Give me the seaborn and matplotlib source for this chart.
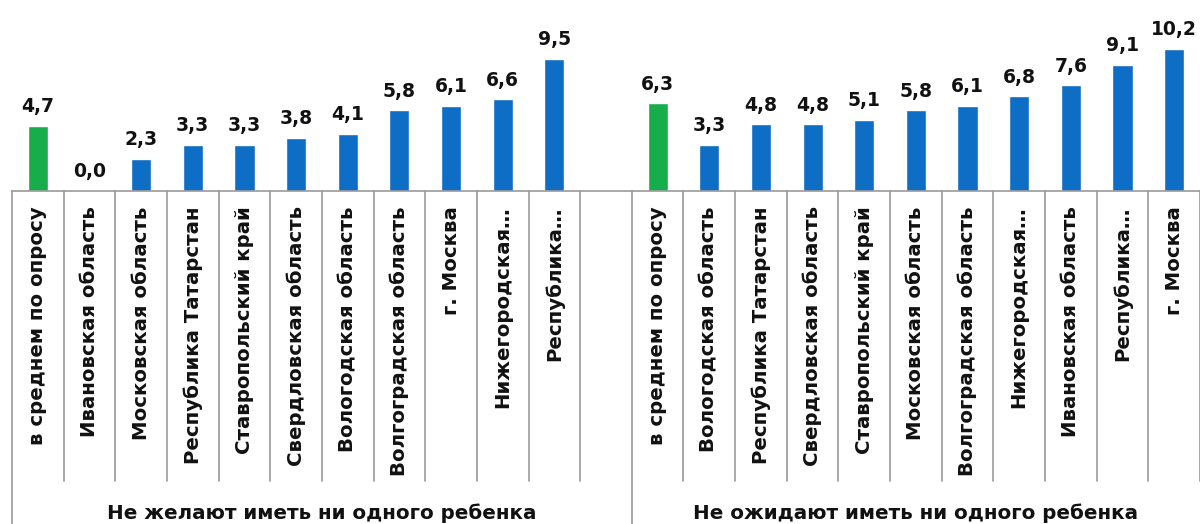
import numpy as np
import pandas as pd
import matplotlib
matplotlib.use("Agg")
import matplotlib.pyplot as plt
import seaborn as sns

# ==================== DATA ====================
GROUP_TITLES = ["Не желают иметь ни одного ребенка",
                "Не ожидают иметь ни одного ребенка"]

labels_wish = ["в среднем по опросу", "Ивановская область", "Московская область",
               "Республика Татарстан", "Ставропольский край", "Свердловская область",
               "Вологодская область", "Волгоградская область", "г. Москва",
               "Нижегородская…", "Республика…"]
values_wish = [4.7, 0.0, 2.3, 3.3, 3.3, 3.8, 4.1, 5.8, 6.1, 6.6, 9.5]

labels_expect = ["в среднем по опросу", "Вологодская область", "Республика Татарстан",
                 "Свердловская область", "Ставропольский край", "Московская область",
                 "Волгоградская область", "Нижегородская…", "Ивановская область",
                 "Республика…", "г. Москва"]
values_expect = [6.3, 3.3, 4.8, 4.8, 5.1, 5.8, 6.1, 6.8, 7.6, 9.1, 10.2]

GREEN = "#17AD4B"
BLUE = "#0E6DC4"
LINE = "#9A9A9A"

# build frame; unique keys so duplicate region names stay separate
rows = []
for i, (lab, v) in enumerate(zip(labels_wish, values_wish)):
    rows.append({"key": f"a{i}", "label": lab, "value": v,
                 "kind": "avg" if i == 0 else "reg"})
for i, (lab, v) in enumerate(zip(labels_expect, values_expect)):
    rows.append({"key": f"b{i}", "label": lab, "value": v,
                 "kind": "avg" if i == 0 else "reg"})
df = pd.DataFrame(rows)

# one empty slot after the first group
order = [f"a{i}" for i in range(len(labels_wish))] + ["gap"] + \
        [f"b{i}" for i in range(len(labels_expect))]
tick_labels = labels_wish + [""] + labels_expect

# ==================== PLOT ====================
sns.set_style("white")
plt.rcParams["font.family"] = ["DejaVu Sans"]

fig = plt.figure(figsize=(12, 5.24), dpi=100)
ax = fig.add_axes([0.01, 1 - 191 / 524, 0.99, 191 / 524])

sns.barplot(data=df, x="key", y="value", order=order, hue="kind",
            palette={"avg": GREEN, "reg": BLUE}, dodge=False, width=0.39,
            legend=False, ax=ax, saturation=1)

ax.set_ylim(0, 191 / 13.9)
ax.set_xlim(-0.5, len(order) - 0.5)
ax.set_yticks([])
ax.set_ylabel("")
ax.set_xlabel("")
for s in ["top", "right", "left"]:
    ax.spines[s].set_visible(False)
ax.spines["bottom"].set_color(LINE)
ax.spines["bottom"].set_linewidth(1.2)

fmt = lambda v: "" if np.isnan(v) else f"{v:.1f}".replace(".", ",")
for cont in ax.containers:
    ax.bar_label(cont, fmt=fmt, padding=7, fontsize=13.5, fontweight="bold",
                 color="#111111")

ax.set_xticks(range(len(order)))
ax.set_xticklabels(tick_labels, rotation=90, fontsize=14.2, fontweight="bold",
                   color="#111111", va="top", ha="center")
ax.tick_params(axis="x", length=0, pad=11)

# category table lines below the axis
trans = ax.get_xaxis_transform()
n_a = len(labels_wish) + 1
short_bottom = -(481 - 191) / 191
tall_bottom = -(530 - 191) / 191
for b in np.arange(len(order) + 1) - 0.5:
    tall = b in (-0.5, n_a - 0.5)
    ax.plot([b, b], [0, tall_bottom if tall else short_bottom], transform=trans,
            color=LINE, lw=1.2, clip_on=False)

# group titles
centers = [(n_a - 1) / 2, n_a + (len(labels_expect) - 1) / 2]
for c, t in zip(centers, GROUP_TITLES):
    ax.text(c, -(513 - 191) / 191, t, transform=trans, ha="center", va="center",
            fontsize=14.3, fontweight="bold", color="#111111")

fig.savefig("out.png", dpi=100)
